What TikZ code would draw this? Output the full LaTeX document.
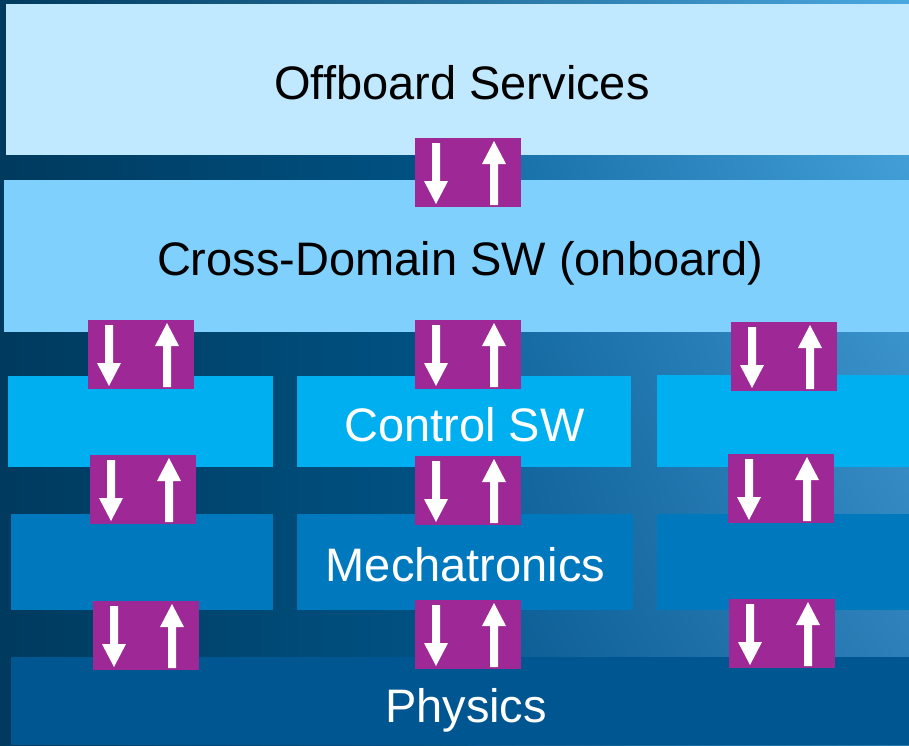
\documentclass[tikz,border=0pt]{standalone}
\usepackage{fontspec}
\setmainfont{Liberation Sans}
\usetikzlibrary{shadings}
\definecolor{offb}{HTML}{C0E8FE}
\definecolor{cross}{HTML}{80D0FE}
\definecolor{ctrl}{HTML}{00AFF0}
\definecolor{mech}{HTML}{0078BE}
\definecolor{phys}{HTML}{005691}
\definecolor{purp}{HTML}{9E2896}
\definecolor{bgA}{HTML}{003A5E}
\definecolor{bgB}{HTML}{005486}
\definecolor{bgUL}{HTML}{1872AA}
\definecolor{bgUR}{HTML}{4AA8E0}
\definecolor{bgLL}{HTML}{08588F}
\definecolor{bgLR}{HTML}{2A7AB4}
\definecolor{bgTop}{HTML}{0C5C92}
\tikzset{
  layerbox/.style={anchor=north west, inner sep=0pt, outer sep=0pt},
  pbox/.style={anchor=north west, fill=purp, inner sep=0pt, outer sep=0pt, minimum width=106pt, minimum height=69pt},
  lbl/.style={anchor=base, inner sep=0pt, font=\fontsize{47}{56}\selectfont},
  wtxt/.style={lbl, text=white},
  btxt/.style={lbl, text=black},
}
\newcommand\arrbox[3]{%
  \node[pbox] (#1) at (#2,#3) {};
  \begin{scope}[shift={(#2,#3)}]
    \fill[white] (17,5) -- (25,5) -- (25,43) -- (33,43) -- (21,66) -- (9,43) -- (17,43) -- cycle;
    \fill[white] (75,67) -- (83,67) -- (83,26) -- (91,26) -- (79,3) -- (67,26) -- (75,26) -- cycle;
  \end{scope}}
\begin{document}
\begin{tikzpicture}[x=1pt,y=-1pt]
\useasboundingbox (0,0) rectangle (909,745);
% background
\shade[left color=bgA, right color=bgB] (0,0) rectangle (468,745);
\shade[upper left=bgUL, upper right=bgUR, lower left=bgLL, lower right=bgLR] (468,0) rectangle (909,745);
\shade[left color=bgA, middle color=bgTop, right color=bgUR] (0,0) rectangle (909,5);
% layers
\node[layerbox, fill=offb, minimum width=903pt, minimum height=151pt] (offboard) at (6,4) {};
\node[layerbox, fill=cross, minimum width=905pt, minimum height=152pt] (crossdom) at (4,180) {};
\node[layerbox, fill=ctrl, minimum width=265pt, minimum height=91pt] (ctrlL) at (8,376) {};
\node[layerbox, fill=ctrl, minimum width=334pt, minimum height=91pt] (ctrlM) at (297,376) {};
\node[layerbox, fill=ctrl, minimum width=252pt, minimum height=92pt] (ctrlR) at (657,375) {};
\node[layerbox, fill=mech, minimum width=262pt, minimum height=96pt] (mechL) at (11,514) {};
\node[layerbox, fill=mech, minimum width=336pt, minimum height=96pt] (mechM) at (297,514) {};
\node[layerbox, fill=mech, minimum width=252pt, minimum height=96pt] (mechR) at (657,514) {};
\node[layerbox, fill=phys, minimum width=898pt, minimum height=88pt] (physics) at (11,657) {};
% labels
\node[btxt] (tOff) at (462,99) {Offboard Services};
\node[btxt] (tCross) at (460,275) {Cross-Domain SW (onboard)};
\node[wtxt] (tCtrl) at (464.5,441) {Control SW};
\node[wtxt] (tMech) at (465.5,581) {Mechatronics};
\node[wtxt] (tPhys) at (466,722) {Physics};
% interface arrows
\arrbox{a1}{415}{138}
\arrbox{b1}{88}{320}
\arrbox{b2}{415}{320}
\arrbox{b3}{731}{322}
\arrbox{c1}{90}{455}
\arrbox{c2}{415}{456}
\arrbox{c3}{728}{454}
\arrbox{d1}{93}{601}
\arrbox{d2}{415}{600}
\arrbox{d3}{729}{599}
\end{tikzpicture}
\end{document}
